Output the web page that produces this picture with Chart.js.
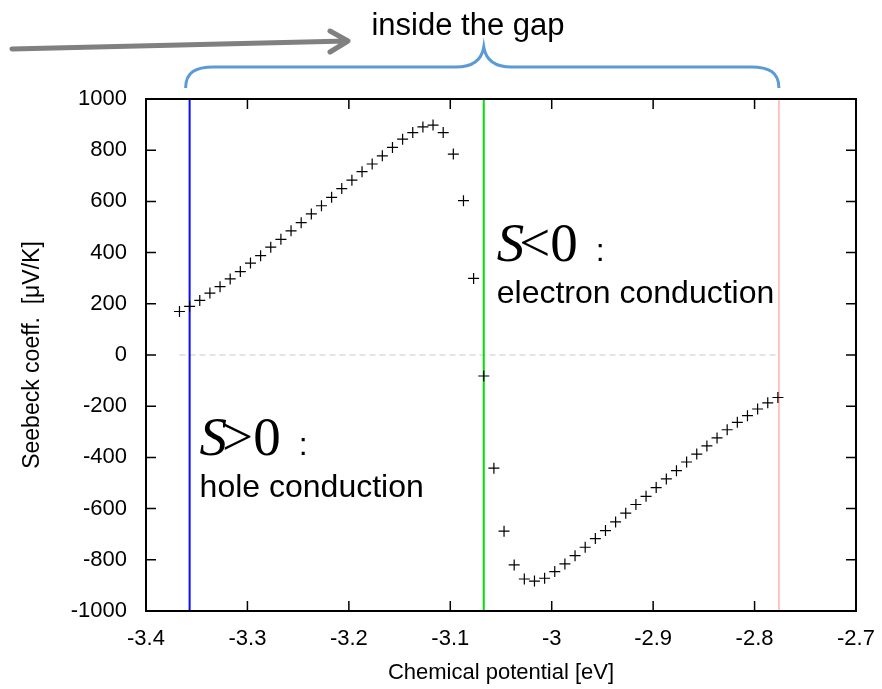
<!DOCTYPE html>
<html lang="en">
<head>
  <meta charset="UTF-8" />
  <title>Seebeck coefficient</title>
  <script src="https://cdn.jsdelivr.net/npm/chart.js"></script>
  <style>
    body { margin: 0; background: #fff; }
    #wrap { width: 882px; height: 689px; }
  </style>
</head>
<body>
  <div id="wrap"><canvas id="grafico" width="882" height="689"></canvas></div>

  <script>
    // chemical potential [eV]
    const mu = [
      -3.367, -3.357, -3.347, -3.337, -3.327, -3.317, -3.307, -3.297, -3.287, -3.277,
      -3.267, -3.257, -3.247, -3.237, -3.227, -3.217, -3.207, -3.197, -3.187, -3.177,
      -3.167, -3.157, -3.147, -3.137, -3.127, -3.117, -3.107, -3.097, -3.087, -3.077,
      -3.067, -3.057, -3.047, -3.037, -3.027, -3.017, -3.007, -2.997, -2.987, -2.977,
      -2.967, -2.957, -2.947, -2.937, -2.927, -2.917, -2.907, -2.897, -2.887, -2.877,
      -2.867, -2.857, -2.847, -2.837, -2.827, -2.817, -2.807, -2.797, -2.787, -2.777
    ];
    // Seebeck coefficient [uV/K]
    const seebeck = [
      170, 190, 213, 242, 267, 297, 326, 359, 388, 421,
      452, 485, 517, 551, 583, 616, 650, 683, 716, 746,
      778, 811, 843, 869, 891, 898, 869, 785, 603, 299,
      -82, -442, -688, -820, -875, -883, -872, -846, -816, -784,
      -751, -717, -686, -652, -618, -584, -552, -518, -484, -452,
      -418, -387, -355, -324, -292, -263, -237, -211, -187, -166
    ];
    // marker lines: valence band top, middle, conduction band bottom
    const gapEdges = [-3.357, -3.067, -2.776];
    const gapColors = ['#0a0aff', '#00e000', '#ffc2c2'];
    const yRange = [-1000, 1000];
    const xTicks = [-3.4, -3.3, -3.2, -3.1, -3, -2.9, -2.8, -2.7];
    const yTicks = [-1000, -800, -600, -400, -200, 0, 200, 400, 600, 800, 1000];

    const pontos = mu.map((x, i) => ({ x: x, y: seebeck[i] }));

    const datasets = [{
      label: 'S',
      data: pontos,
      pointStyle: 'cross',
      pointRadius: 5.5,
      borderColor: '#000',
      borderWidth: 1.2,
      showLine: false,
      order: 0
    }, {
      label: 'zero',
      data: [{ x: mu[0], y: 0 }, { x: gapEdges[2], y: 0 }],
      borderColor: '#c8c8c8',
      borderWidth: 1,
      borderDash: [6, 4],
      pointRadius: 0,
      showLine: true,
      order: 2
    }];
    gapEdges.forEach((e, i) => {
      datasets.push({
        label: 'edge' + i,
        data: [{ x: e, y: yRange[0] }, { x: e, y: yRange[1] }],
        borderColor: gapColors[i],
        borderWidth: 2,
        pointRadius: 0,
        showLine: true,
        order: 1
      });
    });

    // gnuplot style frame, inward ticks and annotations
    const extras = {
      id: 'extras',
      afterDatasetsDraw(chart) {
        const { ctx, chartArea: a, scales } = chart;
        const xs = scales.x, ys = scales.y;
        ctx.save();
        ctx.strokeStyle = '#000';
        ctx.lineWidth = 1.5;
        ctx.beginPath();
        xTicks.forEach(v => {
          const px = xs.getPixelForValue(v);
          ctx.moveTo(px, a.bottom); ctx.lineTo(px, a.bottom - 10);
          ctx.moveTo(px, a.top); ctx.lineTo(px, a.top + 10);
        });
        yTicks.forEach(v => {
          const py = ys.getPixelForValue(v);
          ctx.moveTo(a.left, py); ctx.lineTo(a.left + 10, py);
          ctx.moveTo(a.right, py); ctx.lineTo(a.right - 10, py);
        });
        ctx.stroke();
        ctx.lineWidth = 2;
        ctx.strokeRect(a.left, a.top, a.right - a.left, a.bottom - a.top);

        // S<0 / S>0 labels
        const rotulo = (x, y, sinal, texto) => {
          ctx.fillStyle = '#000';
          ctx.textBaseline = 'alphabetic';
          ctx.textAlign = 'left';
          ctx.font = 'italic 55px "Liberation Serif"';
          ctx.fillText('S', x, y);
          let w = ctx.measureText('S').width - 5;
          ctx.font = '55px "Liberation Serif"';
          ctx.fillText(sinal + '0', x + w, y);
          w += ctx.measureText(sinal + '0').width;
          ctx.font = '32px "Liberation Sans"';
          ctx.fillText(':', x + w + 18, y);
          ctx.fillText(texto, x, y + 42);
        };
        rotulo(xs.getPixelForValue(gapEdges[1]) + 13, 261, '<', 'electron conduction');
        rotulo(xs.getPixelForValue(gapEdges[0]) + 10, 455, '>', 'hole conduction');
        ctx.restore();
      },
      afterDraw(chart) {
        const { ctx, scales } = chart;
        const xs = scales.x;
        const l = xs.getPixelForValue(gapEdges[0]) - 4;
        const m = xs.getPixelForValue(gapEdges[1]);
        const r = xs.getPixelForValue(gapEdges[2]);
        ctx.save();
        // brace
        ctx.strokeStyle = '#5b9bd5';
        ctx.lineWidth = 3;
        ctx.beginPath();
        ctx.moveTo(l, 88);
        ctx.bezierCurveTo(l, 72, l + 10, 67, l + 28, 67);
        ctx.lineTo(m - 28, 67);
        ctx.bezierCurveTo(m - 11, 67, m - 2, 60, m, 47);
        ctx.bezierCurveTo(m + 2, 60, m + 11, 67, m + 28, 67);
        ctx.lineTo(r - 28, 67);
        ctx.bezierCurveTo(r - 10, 67, r, 72, r, 88);
        ctx.stroke();
        // arrow
        ctx.strokeStyle = '#808080';
        ctx.lineWidth = 5;
        ctx.lineCap = 'round';
        ctx.lineJoin = 'round';
        ctx.beginPath();
        ctx.moveTo(12, 49);
        ctx.lineTo(347, 41);
        ctx.moveTo(330, 31);
        ctx.lineTo(348, 41);
        ctx.lineTo(330, 52);
        ctx.stroke();
        // title text
        ctx.fillStyle = '#000';
        ctx.font = '31px "Liberation Sans"';
        ctx.textAlign = 'center';
        ctx.textBaseline = 'alphabetic';
        ctx.fillText('inside the gap', 468, 35);
        ctx.restore();
      }
    };

    new Chart(document.getElementById('grafico').getContext('2d'), {
      type: 'scatter',
      data: { datasets: datasets },
      options: {
        responsive: false,
        animation: false,
        layout: { padding: { top: 99, right: 26, left: 0, bottom: 0 } },
        plugins: { legend: { display: false }, tooltip: { enabled: false } },
        scales: {
          x: {
            type: 'linear',
            min: xTicks[0],
            max: xTicks[xTicks.length - 1],
            afterFit: s => { s.height = 78; },
            afterBuildTicks: s => { s.ticks = xTicks.map(v => ({ value: v })); },
            grid: { display: false },
            border: { display: false },
            ticks: {
              color: '#000',
              padding: 7,
              maxRotation: 0,
              font: { family: 'Liberation Sans', size: 22 },
              callback: v => String(+v.toFixed(1))
            },
            title: {
              display: true,
              text: 'Chemical potential [eV]',
              color: '#000',
              font: { family: 'Liberation Sans', size: 22 },
              padding: { top: 0, bottom: 3 }
            }
          },
          y: {
            min: yRange[0],
            max: yRange[1],
            afterFit: s => { s.width = 146; },
            afterBuildTicks: s => { s.ticks = yTicks.map(v => ({ value: v })); },
            grid: { display: false },
            border: { display: false },
            ticks: {
              color: '#000',
              padding: 11,
              font: { family: 'Liberation Sans', size: 22 },
              callback: v => String(v)
            },
            title: {
              display: true,
              text: 'Seebeck coeff.  [\u03bcV/K]',
              color: '#000',
              font: { family: 'Liberation Sans', size: 23 },
              padding: { top: 19, bottom: 0 }
            }
          }
        }
      },
      plugins: [extras]
    });
  </script>
</body>
</html>
